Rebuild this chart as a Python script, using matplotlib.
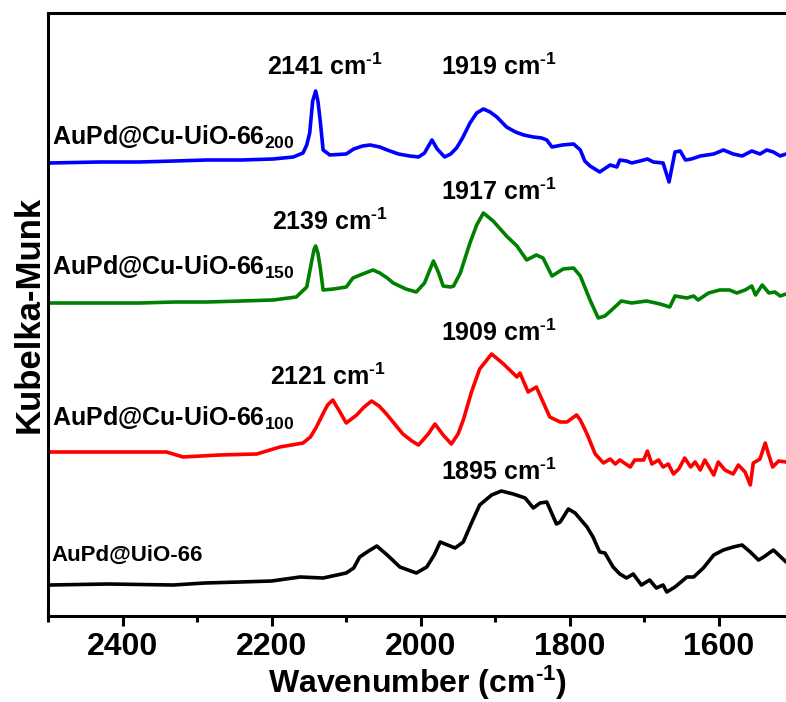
import numpy as np
import matplotlib.pyplot as plt
from matplotlib.ticker import MultipleLocator

plt.rcParams['font.family'] = ['Liberation Sans', 'DejaVu Sans']
plt.rcParams['font.weight'] = 'bold'
plt.rcParams['mathtext.fontset'] = 'custom'
plt.rcParams['mathtext.bf'] = 'Liberation Sans:bold'
plt.rcParams['mathtext.rm'] = 'Liberation Sans:bold'
plt.rcParams['mathtext.default'] = 'bf'

# DRIFTS of CO adsorption, Kubelka-Munk (a.u.), each trace relative to its own baseline
wn_200 = [2498, 2430, 2377, 2330, 2287, 2240, 2198, 2171, 2158, 2153, 2149, 2145, 2141, 2138,
          2135, 2131, 2122, 2100, 2090, 2078, 2068, 2055, 2045, 2030, 2015, 2003, 1995, 1985,
          1978, 1968, 1960, 1952, 1944, 1934, 1925, 1916, 1907, 1898, 1885, 1873, 1862, 1849,
          1838, 1831, 1824, 1810, 1795, 1786, 1780, 1773, 1760, 1746, 1737, 1733, 1724, 1717,
          1706, 1696, 1688, 1675, 1667, 1659, 1652, 1645, 1637, 1625, 1607, 1594, 1581, 1569,
          1556, 1545, 1536, 1527, 1518, 1510]
km_200 = [0.00, 0.01, 0.01, 0.02, 0.03, 0.03, 0.04, 0.06, 0.10, 0.18, 0.30, 0.62, 0.72, 0.62,
          0.43, 0.13, 0.08, 0.09, 0.14, 0.17, 0.18, 0.16, 0.13, 0.09, 0.07, 0.06, 0.10, 0.23,
          0.14, 0.06, 0.09, 0.15, 0.25, 0.40, 0.50, 0.54, 0.51, 0.46, 0.36, 0.31, 0.28, 0.26,
          0.25, 0.23, 0.16, 0.18, 0.19, 0.13, 0.02, -0.03, -0.09, -0.02, -0.04, 0.03, 0.02, 0.00,
          0.02, 0.04, 0.01, 0.00, -0.19, 0.11, 0.12, 0.03, 0.04, 0.07, 0.09, 0.13, 0.09, 0.07,
          0.12, 0.09, 0.13, 0.11, 0.07, 0.09]

wn_150 = [2498, 2430, 2377, 2330, 2287, 2240, 2198, 2167, 2153, 2146, 2143, 2141, 2138, 2135,
          2131, 2117, 2100, 2091, 2078, 2064, 2055, 2045, 2037, 2020, 2006, 1995, 1983, 1976,
          1970, 1960, 1956, 1947, 1934, 1925, 1916, 1903, 1885, 1871, 1858, 1845, 1836, 1824,
          1809, 1795, 1786, 1773, 1762, 1753, 1744, 1731, 1717, 1697, 1679, 1666, 1659, 1643,
          1634, 1628, 1614, 1599, 1586, 1576, 1565, 1556, 1551, 1542, 1533, 1525, 1518, 1510]
km_150 = [0.00, 0.00, 0.00, 0.01, 0.01, 0.02, 0.03, 0.06, 0.16, 0.43, 0.54, 0.57, 0.50, 0.36,
          0.13, 0.14, 0.16, 0.25, 0.29, 0.33, 0.30, 0.25, 0.20, 0.14, 0.11, 0.20, 0.42, 0.30,
          0.17, 0.16, 0.17, 0.30, 0.60, 0.78, 0.90, 0.82, 0.67, 0.57, 0.43, 0.48, 0.45, 0.27,
          0.34, 0.35, 0.27, 0.03, -0.15, -0.13, -0.07, 0.02, 0.00, 0.02, -0.01, -0.04, 0.07, 0.05,
          0.07, 0.03, 0.10, 0.13, 0.13, 0.10, 0.13, 0.17, 0.08, 0.18, 0.10, 0.11, 0.07, 0.09]

wn_100 = [2498, 2420, 2341, 2319, 2270, 2220, 2189, 2158, 2148, 2140, 2130, 2125, 2118, 2110,
          2100, 2086, 2076, 2066, 2056, 2046, 2035, 2024, 2012, 2003, 1990, 1981, 1970, 1959,
          1950, 1943, 1932, 1921, 1905, 1889, 1871, 1867, 1856, 1845, 1827, 1813, 1804, 1791,
          1786, 1777, 1766, 1755, 1746, 1739, 1733, 1719, 1713, 1701, 1696, 1690, 1681, 1675,
          1668, 1661, 1654, 1646, 1638, 1632, 1625, 1619, 1607, 1601, 1592, 1581, 1574, 1565,
          1558, 1554, 1545, 1538, 1534, 1528, 1520, 1510]
km_100 = [0.00, 0.00, 0.00, -0.05, -0.03, -0.02, 0.05, 0.09, 0.15, 0.25, 0.40, 0.47, 0.52, 0.42,
          0.29, 0.37, 0.45, 0.51, 0.46, 0.38, 0.28, 0.18, 0.11, 0.07, 0.18, 0.28, 0.17, 0.08,
          0.18, 0.32, 0.60, 0.83, 0.98, 0.88, 0.75, 0.79, 0.60, 0.65, 0.35, 0.30, 0.30, 0.37,
          0.32, 0.18, -0.02, -0.11, -0.07, -0.12, -0.08, -0.15, -0.08, -0.08, 0.01, -0.12, -0.08, -0.15,
          -0.12, -0.22, -0.17, -0.06, -0.15, -0.10, -0.18, -0.08, -0.23, -0.10, -0.18, -0.22, -0.13, -0.20,
          -0.33, -0.11, -0.07, 0.09, -0.01, -0.15, -0.09, -0.10]

wn_uio = [2498, 2420, 2332, 2290, 2243, 2200, 2162, 2131, 2100, 2090, 2082, 2070, 2059, 2045,
          2028, 2006, 1992, 1982, 1974, 1964, 1954, 1943, 1932, 1921, 1905, 1892, 1876, 1860,
          1849, 1840, 1831, 1818, 1813, 1802, 1793, 1777, 1769, 1760, 1753, 1742, 1733, 1724,
          1715, 1704, 1693, 1684, 1675, 1670, 1659, 1643, 1634, 1621, 1607, 1594, 1581, 1569,
          1558, 1547, 1540, 1527, 1510]
km_uio = [0.00, 0.01, 0.00, 0.02, 0.03, 0.04, 0.08, 0.07, 0.12, 0.17, 0.28, 0.34, 0.39, 0.30,
          0.18, 0.12, 0.18, 0.30, 0.43, 0.40, 0.37, 0.43, 0.62, 0.80, 0.90, 0.94, 0.91, 0.87,
          0.77, 0.82, 0.83, 0.61, 0.63, 0.76, 0.72, 0.58, 0.48, 0.33, 0.32, 0.18, 0.11, 0.07,
          0.11, 0.00, 0.05, -0.03, 0.00, -0.07, -0.02, 0.08, 0.08, 0.17, 0.30, 0.35, 0.38, 0.40,
          0.33, 0.25, 0.28, 0.35, 0.23]

offsets = [4.53, 3.13, 1.64, 0.31]
colors = ['#0000FF', '#008000', '#FF0000', '#000000']
names = ['AuPd@Cu-UiO-66$_{200}$', 'AuPd@Cu-UiO-66$_{150}$',
         'AuPd@Cu-UiO-66$_{100}$', 'AuPd@UiO-66']
name_y = [4.79, 3.49, 1.98, 0.61]
name_size = [18, 18, 18, 16]

peak_text = ['2141', '1919', '2139', '1917', '2121', '1909', '1895']
peak_x = [2129, 1895, 2122, 1895, 2124, 1895, 1895]
peak_y = [5.41, 5.41, 3.86, 4.16, 2.31, 2.75, 1.36]

series = [(wn_200, km_200), (wn_150, km_150), (wn_100, km_100), (wn_uio, km_uio)]

fig = plt.figure(figsize=(7.86, 7.02), dpi=100)
ax = fig.add_axes([0.0611, 0.1225, 0.939, 0.859])

for (wn, km), off, c in zip(series, offsets, colors):
    ax.plot(wn, np.array(km) + off, color=c, lw=2.6,
            solid_joinstyle='round', solid_capstyle='round')

for name, y, fs in zip(names, name_y, name_size):
    ax.text(2495, y, name, fontsize=fs, fontweight='bold', va='center', ha='left')

for t, x, y in zip(peak_text, peak_x, peak_y):
    ax.text(x, y, t + r' cm$^{\text{-1}}$', fontsize=18, fontweight='bold',
            ha='center', va='baseline')

ax.set_xlim(2500, 1510)
ax.set_ylim(0, 6.03)
ax.xaxis.set_major_locator(MultipleLocator(200))
ax.xaxis.set_minor_locator(MultipleLocator(100))
ax.tick_params(axis='x', which='major', direction='out', length=7.5, width=2.2, pad=4,
               labelsize=23)
ax.tick_params(axis='x', which='minor', direction='out', length=4.5, width=2.2)
ax.tick_params(axis='y', left=False, labelleft=False)

for s in ['left', 'bottom', 'top']:
    ax.spines[s].set_linewidth(2.2)
ax.spines['right'].set_visible(False)

ax.set_xlabel(r'Wavenumber (cm$^{\text{-1}}$)', fontsize=23, fontweight='bold', labelpad=1)
ax.set_ylabel('Kubelka-Munk', fontsize=25, fontweight='bold', labelpad=2)

fig.savefig('out.png', dpi=100)
